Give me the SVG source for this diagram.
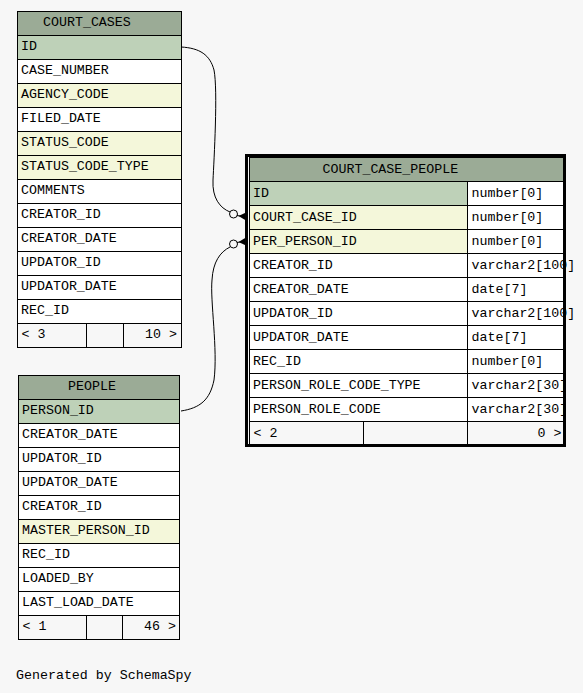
<svg xmlns="http://www.w3.org/2000/svg" width="583" height="693" viewBox="0 0 583 693">
<style>
text{font-family:"Liberation Mono","DejaVu Sans Mono",monospace;font-size:13.3px;fill:#000}
.e{text-anchor:end}
.h,.pk,.fk,.w,.f{stroke:#000;stroke-width:1}
.h{fill:#9bab96}
.pk{fill:#bed1b8}
.fk{fill:#f4f7da}
.w{fill:#fff}
.f{fill:#f7f7f7}
.bg{fill:#f7f7f7;stroke:none}
.b{fill:none;stroke:#000;stroke-width:3}
.c{fill:none;stroke:#000;stroke-width:1}
</style>
<rect class="bg" x="0" y="0" width="583" height="693"/>
<g id="connectors">
<path class="c" d="M181,47 C200,48 210,55 214,70 C218,90 214,160 213,180 C212,198 220,208 230,212"/>
<circle class="c" cx="233.5" cy="214" r="4"/>
<path class="c" d="M237,215.5 L246,217"/>
<polygon points="238.5,216 246,212.5 246,220.5" fill="#000"/>
<path class="c" d="M181,411 C200,408 210,400 214,380 C218,350 210,300 212,280 C213,262 220,252 230,247"/>
<circle class="c" cx="233.5" cy="244" r="4"/>
<path class="c" d="M237,242.5 L246,241"/>
<polygon points="238.5,242 246,237.5 246,245.5" fill="#000"/>
</g>
<g id="court_cases">
<rect class="h" x="17.5" y="11.5" width="164" height="24"/>
<text x="43" y="26">COURT_CASES</text>
<rect class="pk" x="17.5" y="35.5" width="164" height="24"/><text x="21" y="50">ID</text>
<rect class="w" x="17.5" y="59.5" width="164" height="24"/><text x="21" y="74">CASE_NUMBER</text>
<rect class="fk" x="17.5" y="83.5" width="164" height="24"/><text x="21" y="98">AGENCY_CODE</text>
<rect class="w" x="17.5" y="107.5" width="164" height="24"/><text x="21" y="122">FILED_DATE</text>
<rect class="fk" x="17.5" y="131.5" width="164" height="24"/><text x="21" y="146">STATUS_CODE</text>
<rect class="fk" x="17.5" y="155.5" width="164" height="24"/><text x="21" y="170">STATUS_CODE_TYPE</text>
<rect class="w" x="17.5" y="179.5" width="164" height="24"/><text x="21" y="194">COMMENTS</text>
<rect class="w" x="17.5" y="203.5" width="164" height="24"/><text x="21" y="218">CREATOR_ID</text>
<rect class="w" x="17.5" y="227.5" width="164" height="24"/><text x="21" y="242">CREATOR_DATE</text>
<rect class="w" x="17.5" y="251.5" width="164" height="24"/><text x="21" y="266">UPDATOR_ID</text>
<rect class="w" x="17.5" y="275.5" width="164" height="24"/><text x="21" y="290">UPDATOR_DATE</text>
<rect class="w" x="17.5" y="299.5" width="164" height="24"/><text x="21" y="314">REC_ID</text>
<rect class="f" x="17.5" y="323.5" width="69" height="24"/>
<rect class="f" x="86.5" y="323.5" width="37" height="24"/>
<rect class="f" x="123.5" y="323.5" width="58" height="24"/>
<text x="21.5" y="338">&lt; 3</text>
<text class="e" x="177" y="338">10 &gt;</text>
</g>
<g id="people">
<rect class="h" x="18.5" y="375.5" width="161" height="24"/>
<text x="68" y="390">PEOPLE</text>
<rect class="pk" x="18.5" y="399.5" width="161" height="24"/><text x="22" y="414">PERSON_ID</text>
<rect class="w" x="18.5" y="423.5" width="161" height="24"/><text x="22" y="438">CREATOR_DATE</text>
<rect class="w" x="18.5" y="447.5" width="161" height="24"/><text x="22" y="462">UPDATOR_ID</text>
<rect class="w" x="18.5" y="471.5" width="161" height="24"/><text x="22" y="486">UPDATOR_DATE</text>
<rect class="w" x="18.5" y="495.5" width="161" height="24"/><text x="22" y="510">CREATOR_ID</text>
<rect class="fk" x="18.5" y="519.5" width="161" height="24"/><text x="22" y="534">MASTER_PERSON_ID</text>
<rect class="w" x="18.5" y="543.5" width="161" height="24"/><text x="22" y="558">REC_ID</text>
<rect class="w" x="18.5" y="567.5" width="161" height="24"/><text x="22" y="582">LOADED_BY</text>
<rect class="w" x="18.5" y="591.5" width="161" height="24"/><text x="22" y="606">LAST_LOAD_DATE</text>
<rect class="f" x="18.5" y="615.5" width="68" height="24"/>
<rect class="f" x="86.5" y="615.5" width="36" height="24"/>
<rect class="f" x="122.5" y="615.5" width="57" height="24"/>
<text x="22.5" y="630">&lt; 1</text>
<text class="e" x="176" y="630">46 &gt;</text>
</g>
<g id="court_case_people">
<rect class="h" x="249.5" y="157.5" width="314" height="24"/>
<text x="322.5" y="173">COURT_CASE_PEOPLE</text>
<rect class="pk" x="249.5" y="181.5" width="218" height="24"/><rect class="w" x="467.5" y="181.5" width="96" height="24"/>
<text x="253" y="197">ID</text><text x="471.5" y="197">number[0]</text>
<rect class="fk" x="249.5" y="205.5" width="218" height="24"/><rect class="w" x="467.5" y="205.5" width="96" height="24"/>
<text x="253" y="221">COURT_CASE_ID</text><text x="471.5" y="221">number[0]</text>
<rect class="fk" x="249.5" y="229.5" width="218" height="24"/><rect class="w" x="467.5" y="229.5" width="96" height="24"/>
<text x="253" y="245">PER_PERSON_ID</text><text x="471.5" y="245">number[0]</text>
<rect class="w" x="249.5" y="253.5" width="218" height="24"/><rect class="w" x="467.5" y="253.5" width="96" height="24"/>
<text x="253" y="269">CREATOR_ID</text><text x="471.5" y="269">varchar2[100]</text>
<rect class="w" x="249.5" y="277.5" width="218" height="24"/><rect class="w" x="467.5" y="277.5" width="96" height="24"/>
<text x="253" y="293">CREATOR_DATE</text><text x="471.5" y="293">date[7]</text>
<rect class="w" x="249.5" y="301.5" width="218" height="24"/><rect class="w" x="467.5" y="301.5" width="96" height="24"/>
<text x="253" y="317">UPDATOR_ID</text><text x="471.5" y="317">varchar2[100]</text>
<rect class="w" x="249.5" y="325.5" width="218" height="24"/><rect class="w" x="467.5" y="325.5" width="96" height="24"/>
<text x="253" y="341">UPDATOR_DATE</text><text x="471.5" y="341">date[7]</text>
<rect class="w" x="249.5" y="349.5" width="218" height="24"/><rect class="w" x="467.5" y="349.5" width="96" height="24"/>
<text x="253" y="365">REC_ID</text><text x="471.5" y="365">number[0]</text>
<rect class="w" x="249.5" y="373.5" width="218" height="24"/><rect class="w" x="467.5" y="373.5" width="96" height="24"/>
<text x="253" y="389">PERSON_ROLE_CODE_TYPE</text><text x="471.5" y="389">varchar2[30]</text>
<rect class="w" x="249.5" y="397.5" width="218" height="24"/><rect class="w" x="467.5" y="397.5" width="96" height="24"/>
<text x="253" y="413">PERSON_ROLE_CODE</text><text x="471.5" y="413">varchar2[30]</text>
<rect class="f" x="249.5" y="421.5" width="114" height="24"/>
<rect class="f" x="363.5" y="421.5" width="104" height="24"/>
<rect class="f" x="467.5" y="421.5" width="96" height="24"/>
<text x="253.5" y="437">&lt; 2</text>
<text class="e" x="561.5" y="437">0 &gt;</text>
<rect class="b" x="246.5" y="155.5" width="318" height="290"/>
</g>
<text x="16" y="679">Generated by SchemaSpy</text>
</svg>
